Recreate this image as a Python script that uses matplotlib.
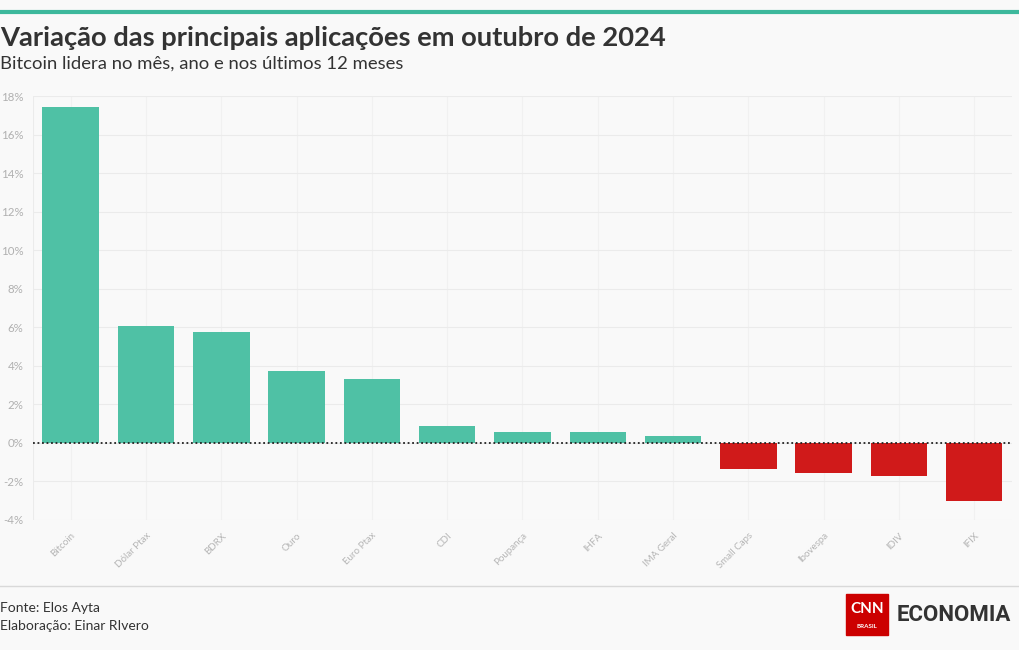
import matplotlib.pyplot as plt
from matplotlib.patches import Rectangle
from matplotlib.ticker import FuncFormatter

# Dados: variação em outubro de 2024 (%)
categorias = ["Bitcoin", "Dólar Ptax", "BDRX", "Ouro", "Euro Ptax", "CDI", "Poupança",
              "IHFA", "IMA Geral", "Small Caps", "Ibovespa", "IDIV", "IFIX"]
variacao = [17.44, 6.07, 5.76, 3.74, 3.32, 0.88, 0.57, 0.57, 0.36, -1.35, -1.56, -1.71, -3.01]
y_ticks = [-4, -2, 0, 2, 4, 6, 8, 10, 12, 14, 16, 18]

BG = "#f9f9f9"
VERDE = "#4fc1a5"
VERMELHO = "#d01a1a"

plt.rcParams["font.family"] = ["Lato", "DejaVu Sans"]

fig = plt.figure(figsize=(10.2, 6.5), dpi=100, facecolor=BG)
ax = fig.add_axes([0.0324, 0.2, 0.9596, 0.6523], facecolor=BG)

cores = [VERDE if v >= 0 else VERMELHO for v in variacao]
x = range(len(categorias))
ax.bar(x, variacao, width=0.75, color=cores, zorder=3)
ax.axhline(0, color="#222222", linestyle=(0, (1, 1.5)), linewidth=1.3, zorder=4)

ax.set_xlim(-0.5, len(categorias) - 0.5)
ax.set_ylim(-4, 18)
ax.set_yticks(y_ticks)
ax.yaxis.set_major_formatter(FuncFormatter(lambda v, _: f"{v:.0f}%"))
ax.set_xticks(list(x))
ax.set_xticklabels(categorias, rotation=45, ha="right", rotation_mode="anchor",
                   fontsize=7, color="#b5b5b5")
ax.tick_params(axis="y", labelsize=8.3, colors="#b0b0b0", length=0, pad=7)
ax.tick_params(axis="x", length=0, pad=8)

ax.grid(True, axis="y", color="#ebebeb", linewidth=0.8, zorder=0)
ax.grid(True, axis="x", color="#f1f1f1", linewidth=0.8, zorder=0)
for s in ax.spines.values():
    s.set_visible(False)
ax.axvline(-0.5, color="#ebebeb", linewidth=0.8, zorder=0)

# Faixa no topo
fig.add_artist(plt.Line2D([0, 1], [1 - 12 / 650, 1 - 12 / 650], color="#3db89c", linewidth=3))

fig.text(0.0, 1 - 38 / 650, "Variação das principais aplicações em outubro de 2024",
         fontsize=19.7, fontweight="bold", color="#333333", va="center", ha="left")
fig.text(0.0, 1 - 64 / 650, "Bitcoin lidera no mês, ano e nos últimos 12 meses",
         fontsize=13.3, color="#333333", va="center", ha="left")

# Rodapé
fig.add_artist(plt.Line2D([0, 1], [1 - 586 / 650, 1 - 586 / 650], color="#d9d9d9", linewidth=1))
fig.text(0.0, 1 - 608 / 650, "Fonte: Elos Ayta", fontsize=10, color="#333333", va="center")
fig.text(0.0, 1 - 626 / 650, "Elaboração: Einar RIvero", fontsize=10, color="#333333", va="center")

# Logo
fig.add_artist(Rectangle((846 / 1020, 1 - 635 / 650), 42 / 1020, 41 / 650,
                         transform=fig.transFigure, color="#cc0000"))
fig.text(867 / 1020, 1 - 609 / 650, "CNN", fontsize=11, fontweight="bold", color="white",
         ha="center", va="center")
fig.text(867 / 1020, 1 - 626 / 650, "BRASIL", fontsize=4.5, fontweight="bold", color="white",
         ha="center", va="center")
fig.text(897 / 1020, 1 - 615 / 650, "ECONOMIA", fontsize=16, fontweight="bold",
         color="#333333", ha="left", va="center", family=["Roboto", "DejaVu Sans"])

fig.savefig("out.png", dpi=100, facecolor=BG)
